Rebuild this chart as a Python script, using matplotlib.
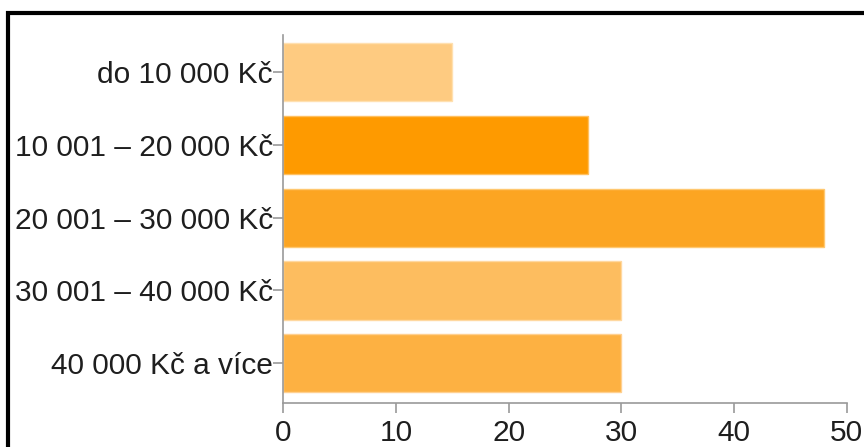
import matplotlib
matplotlib.use("Agg")
import matplotlib.pyplot as plt
from matplotlib.patches import Rectangle

# Income brackets and counts
categories = [
    "do 10 000 Kč",
    "10 001 – 20 000 Kč",
    "20 001 – 30 000 Kč",
    "30 001 – 40 000 Kč",
    "40 000 Kč a více",
]
values = [15, 27, 48, 30, 30]
bar_colors = ["#FECB81", "#FE9A00", "#FCA522", "#FDBD5F", "#FDB142"]
edge_colors = ["#FFE0B0", "#FFC060", "#FFC870", "#FFD8A0", "#FFD090"]
x_ticks = [0, 10, 20, 30, 40, 50]

plt.rcParams["font.family"] = ["Liberation Sans", "DejaVu Sans"]

W, H = 864, 447
fig = plt.figure(figsize=(W / 100, H / 100), dpi=100)
fig.patch.set_facecolor("white")

# Axes box placed in pixel terms
left, right, top, bottom = 283.3, 846.7, 35.0, 403.3
ax = fig.add_axes([left / W, 1 - bottom / H, (right - left) / W, (bottom - top) / H])

ypos = list(range(len(categories)))
ax.barh(ypos, values, height=0.8, color=bar_colors, edgecolor=edge_colors,
        linewidth=1.0, zorder=2)

ax.set_xlim(0, 50)
ax.set_ylim(4.549, -0.508)
ax.set_xticks(x_ticks)
ax.set_xticklabels([str(t) for t in x_ticks])
ax.set_yticks(ypos)
ax.set_yticklabels(categories)

for side in ("top", "right"):
    ax.spines[side].set_visible(False)
for side in ("left", "bottom"):
    ax.spines[side].set_color("#9a9a9a")
    ax.spines[side].set_linewidth(1.2)

ax.tick_params(axis="both", colors="#9a9a9a", length=7, width=1.2,
               labelcolor="#1e1e1e", labelsize=21.5)
ax.tick_params(axis="y", pad=0.5)
ax.tick_params(axis="x", pad=4)

# Black frame along the top and left edge of the figure
frame = Rectangle((8 / W, -0.2), 1.5, (H - 13) / H + 0.2,
                  transform=fig.transFigure, fill=False,
                  edgecolor="black", linewidth=3.0, zorder=10)
fig.patches.append(frame)

fig.savefig("out.png", dpi=100, facecolor="white")
